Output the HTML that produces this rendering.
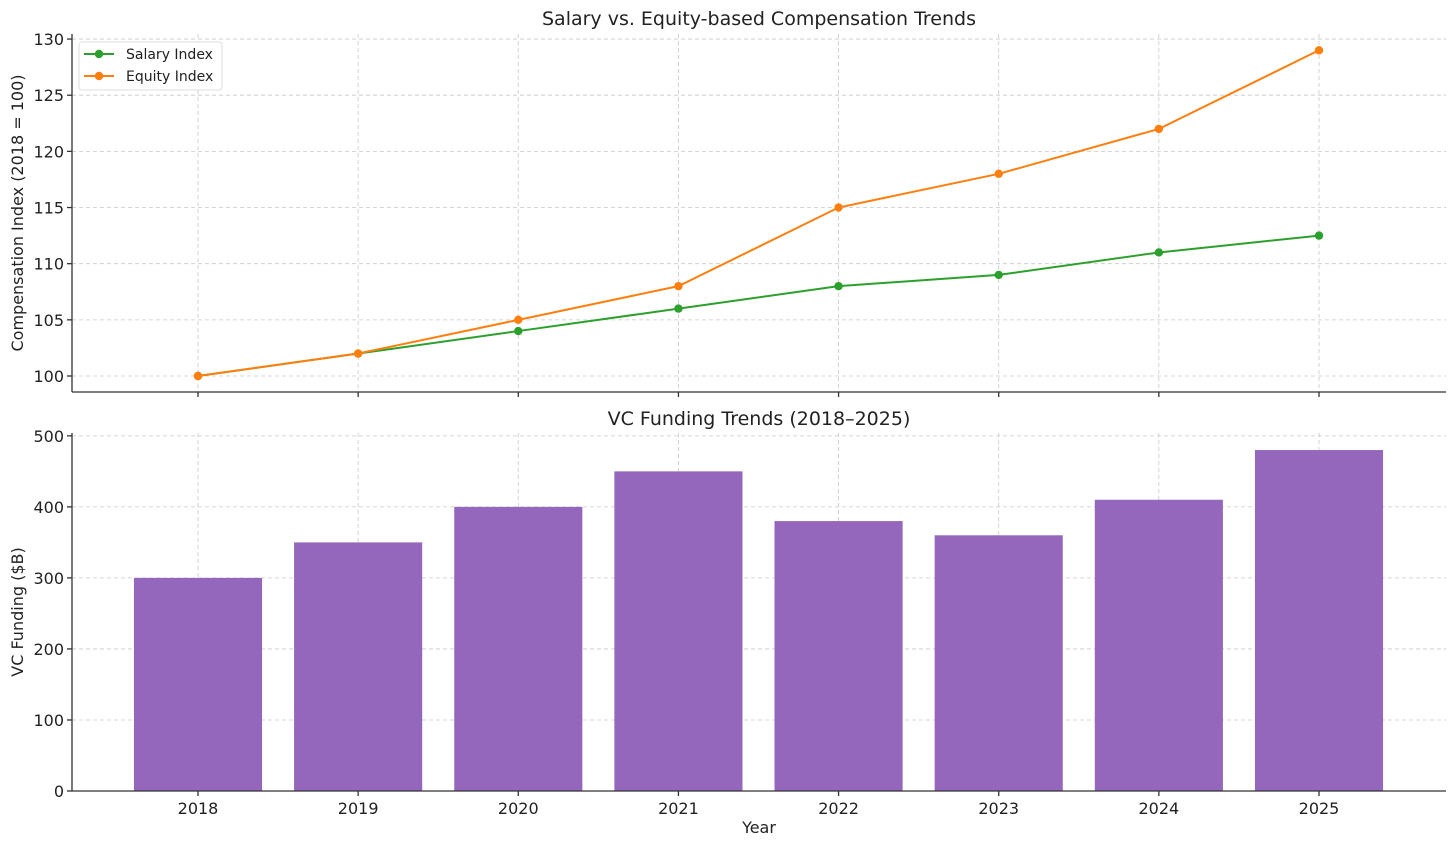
<!DOCTYPE html>
<html><head><meta charset="utf-8"><style>
body{margin:0;background:#fff;}
svg{display:block;font-family:"DejaVu Sans","Liberation Sans",sans-serif;}
</style></head><body>
<svg id="chart" width="1456" height="845" viewBox="0 0 1456 845" xmlns="http://www.w3.org/2000/svg"></svg>
<script>
const years = [2018, 2019, 2020, 2021, 2022, 2023, 2024, 2025];
const salaryIndex = [100, 102, 104, 106, 108, 109, 111, 112.5];
const equityIndex = [100, 102, 105, 108, 115, 118, 122, 129];
const vcFunding = [300, 350, 400, 450, 380, 360, 410, 480];
const topTicks = [100, 105, 110, 115, 120, 125, 130];
const bottomTicks = [0, 100, 200, 300, 400, 500];

const NS = "http://www.w3.org/2000/svg";
const svg = document.getElementById('chart');
function el(tag, attrs, parent, text) {
  const e = document.createElementNS(NS, tag);
  for (const k in attrs) e.setAttribute(k, attrs[k]);
  if (text !== undefined) e.textContent = text;
  (parent || svg).appendChild(e);
  return e;
}
const L = 72, R = 1446;
const xs = i => 198 + (1319 - 198) * (i) / (years.length - 1);
const step = (1319 - 198) / (years.length - 1);
// top axes
const T1 = 34, B1 = 392, ymin1 = 98.575, ymax1 = 130.45;
const y1 = v => B1 - (v - ymin1) / (ymax1 - ymin1) * (B1 - T1);
// bottom axes
const T2 = 433, B2 = 791, ymax2 = 504;
const y2 = v => B2 - v / ymax2 * (B2 - T2);

const grid = el('g', {}, svg);


years.forEach((yr, i) => {
  el('line', {x1: xs(i), x2: xs(i), y1: T1, y2: B1, stroke: '#c8c8c8', 'stroke-dasharray': '4,3', 'stroke-width': 0.8}, grid);
  el('line', {x1: xs(i), x2: xs(i), y1: T2, y2: B2, stroke: '#c8c8c8', 'stroke-dasharray': '4,3', 'stroke-width': 0.8}, grid);
});
topTicks.forEach(t => el('line', {x1: L, x2: R, y1: y1(t), y2: y1(t), stroke: '#c8c8c8', 'stroke-dasharray': '4,3', 'stroke-width': 0.8}, grid));
bottomTicks.forEach(t => el('line', {x1: L, x2: R, y1: y2(t), y2: y2(t), stroke: '#c8c8c8', 'stroke-dasharray': '4,3', 'stroke-width': 0.8}, grid));

// bars
const bars = el('g', {}, svg);


vcFunding.forEach((v, i) => {
  const b = el('rect', {x: xs(i) - step * 0.4, y: y2(v), width: step * 0.8, height: B2 - y2(v), fill: '#9467bd'}, bars);
  
  
});

// lines
function series(vals, color, name) {
  const g = el('g', {}, svg);
  
  
  el('polyline', {points: vals.map((v, i) => xs(i) + ',' + y1(v)).join(' '), fill: 'none', stroke: color, 'stroke-width': 2}, g);
  vals.forEach((v, i) => {
    const c = el('circle', {cx: xs(i), cy: y1(v), r: 4.2, fill: color}, g);
    
    
  });
}
series(salaryIndex, '#2ca02c', 'salary-index-line');
series(equityIndex, '#ff7f0e', 'equity-index-line');

// axes spines
const ax = el('g', {stroke: '#333', 'stroke-width': 1.3}, svg);


el('line', {x1: L, x2: L, y1: T1, y2: B1}, ax);
el('line', {x1: L, x2: R, y1: B1, y2: B1}, ax);
el('line', {x1: L, x2: L, y1: T2, y2: B2}, ax);
el('line', {x1: L, x2: R, y1: B2, y2: B2}, ax);
years.forEach((yr, i) => {
  el('line', {x1: xs(i), x2: xs(i), y1: B1, y2: B1 + 5}, ax);
  el('line', {x1: xs(i), x2: xs(i), y1: B2, y2: B2 + 5}, ax);
});
topTicks.forEach(t => el('line', {x1: L - 5, x2: L, y1: y1(t), y2: y1(t)}, ax));
bottomTicks.forEach(t => el('line', {x1: L - 5, x2: L, y1: y2(t), y2: y2(t)}, ax));

const lab = el('g', {fill: '#222', 'font-size': 16}, svg);


topTicks.forEach(t => el('text', {x: L - 8, y: y1(t) + 6, 'text-anchor': 'end'}, lab, t));
bottomTicks.forEach(t => el('text', {x: L - 8, y: y2(t) + 6, 'text-anchor': 'end'}, lab, t));
years.forEach((yr, i) => el('text', {x: xs(i), y: B2 + 23, 'text-anchor': 'middle'}, lab, yr));

el('text', {x: 759, y: 25, 'text-anchor': 'middle', 'font-size': 19, fill: '#222',  }, svg, 'Salary vs. Equity-based Compensation Trends');
el('text', {x: 759, y: 425, 'text-anchor': 'middle', 'font-size': 19, fill: '#222',  }, svg, 'VC Funding Trends (2018–2025)');
el('text', {x: 759, y: 833, 'text-anchor': 'middle', 'font-size': 16, fill: '#222',  }, svg, 'Year');
el('text', {x: 23, y: 213, 'text-anchor': 'middle', 'font-size': 16, fill: '#222', transform: 'rotate(-90 23 213)',  }, svg, 'Compensation Index (2018 = 100)');
el('text', {x: 23, y: 612, 'text-anchor': 'middle', 'font-size': 16, fill: '#222', transform: 'rotate(-90 23 612)',  }, svg, 'VC Funding ($B)');

// legend
const lg = el('g', {}, svg);


el('rect', {x: 79, y: 42, width: 143, height: 48, rx: 3, fill: '#fff', 'fill-opacity': 0.85, stroke: '#ddd'}, lg);
[['Salary Index', '#2ca02c', 54], ['Equity Index', '#ff7f0e', 76]].forEach(([n, c, y]) => {
  const g = el('g', {}, lg);
  
  
  el('line', {x1: 84, x2: 114, y1: y, y2: y, stroke: c, 'stroke-width': 2}, g);
  el('circle', {cx: 99, cy: y, r: 4.2, fill: c}, g);
  el('text', {x: 126, y: y + 5, 'font-size': 14, fill: '#222'}, g, n);
});
</script>
</body></html>
